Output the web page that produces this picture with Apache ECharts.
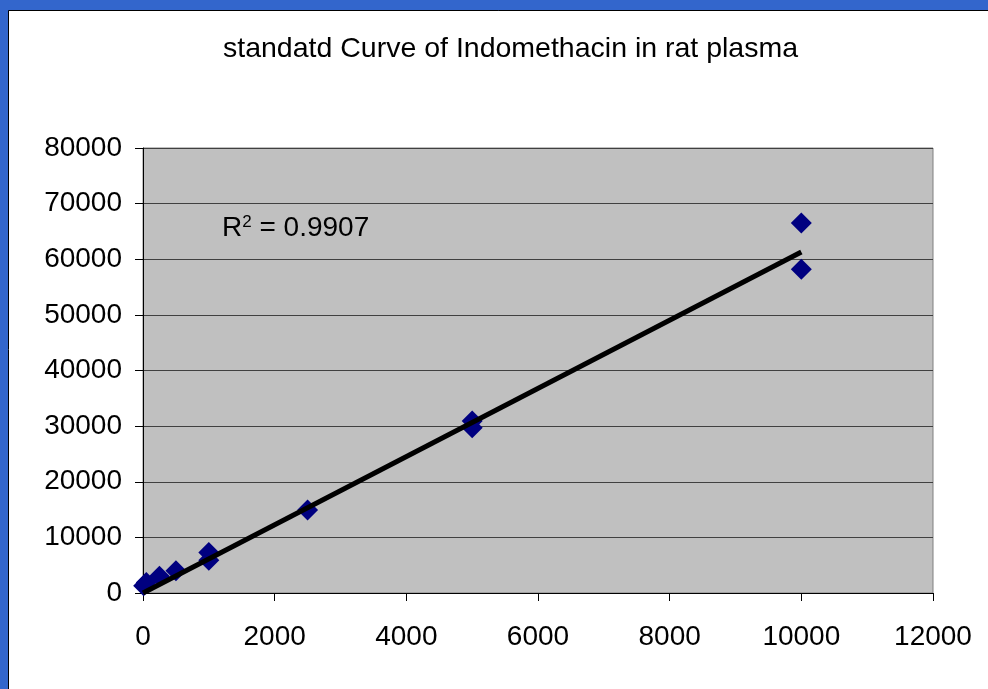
<!DOCTYPE html>
<html>
<head>
<meta charset="utf-8">
<script src="https://cdn.jsdelivr.net/npm/echarts@6/dist/echarts.min.js"></script>
<style>
html,body{margin:0;padding:0;background:#ffffff;}
#chart{width:988px;height:689px;}
</style>
</head>
<body>
<div id="chart"></div>
<script>
// Data
const titleText = 'standatd Curve of Indomethacin in rat plasma';
const concentration = [10, 50, 250, 500, 1000, 1000, 2500, 5000, 5000, 10000, 10000];
const response = [1300, 1900, 3000, 4000, 7300, 5900, 14900, 30900, 29700, 66500, 58200];
const trendX = [0, 10000];
const trendY = [0, 61300];
const rSquaredText = '0.9907';
const xTicks = [0, 2000, 4000, 6000, 8000, 10000, 12000];
const yTicks = [0, 10000, 20000, 30000, 40000, 50000, 60000, 70000, 80000];

const chart = echarts.init(document.getElementById('chart'), null, {renderer: 'canvas'});
const font = 'Liberation Sans, Arial, sans-serif';

const option = {
  backgroundColor: '#ffffff',
  animation: false,
  title: {
    text: titleText,
    left: 218,
    top: 30,
    textStyle: {fontFamily: font, fontSize: 28.5, fontWeight: 'normal', color: '#000'}
  },
  grid: {left: 143, top: 148, right: 55, bottom: 96, show: true, backgroundColor: '#c0c0c0', borderColor: '#808080', borderWidth: 1},
  xAxis: {
    type: 'value',
    min: xTicks[0], max: xTicks[xTicks.length - 1], interval: xTicks[1] - xTicks[0],
    axisLine: {show: true, lineStyle: {color: '#000', width: 1}},
    axisTick: {show: true, inside: false, length: 8, lineStyle: {color: '#000'}},
    axisLabel: {fontFamily: font, fontSize: 28, color: '#000', margin: 30, formatter: v => String(v)},
    splitLine: {show: false}
  },
  yAxis: {
    type: 'value',
    min: yTicks[0], max: yTicks[yTicks.length - 1], interval: yTicks[1] - yTicks[0],
    axisLine: {show: true, lineStyle: {color: '#000', width: 1}},
    axisTick: {show: true, inside: false, length: 8, lineStyle: {color: '#000'}},
    axisLabel: {fontFamily: font, fontSize: 28, color: '#000', margin: 21, formatter: v => String(v)},
    splitLine: {show: true, lineStyle: {color: '#404040', width: 1}}
  },
  series: [
    {
      type: 'line',
      data: trendX.map((x, i) => [x, trendY[i]]),
      symbol: 'none',
      lineStyle: {color: '#000', width: 5},
      z: 3
    },
    {
      type: 'scatter',
      data: concentration.map((x, i) => [x, response[i]]),
      symbol: 'diamond',
      symbolSize: 21,
      itemStyle: {color: '#000080', opacity: 1},
      z: 2
    }
  ],
  graphic: [
    {type: 'rect', left: 0, top: 0, shape: {width: 988, height: 11}, style: {fill: '#3366cc'}, silent: true},
    {type: 'rect', left: 0, top: 0, shape: {width: 8, height: 689}, style: {fill: '#3366cc'}, silent: true},
    {type: 'line', shape: {x1: 8.5, y1: 10.5, x2: 8.5, y2: 689}, style: {stroke: '#000', lineWidth: 1}, silent: true},
    {type: 'line', shape: {x1: 8.5, y1: 10.5, x2: 988, y2: 10.5}, style: {stroke: '#000', lineWidth: 1}, silent: true},
    {
      type: 'text', left: 222, top: 214, z: 10,
      style: {
        text: '{r|R}{s|2}{r| = ' + rSquaredText + '}',
        rich: {
          r: {fontFamily: font, fontSize: 28, fill: '#000', verticalAlign: 'bottom'},
          s: {fontFamily: font, fontSize: 17, fill: '#000', verticalAlign: 'top', padding: [0, 0, 10, 0]}
        }
      }
    }
  ]
};
chart.setOption(option);
</script>
</body>
</html>
